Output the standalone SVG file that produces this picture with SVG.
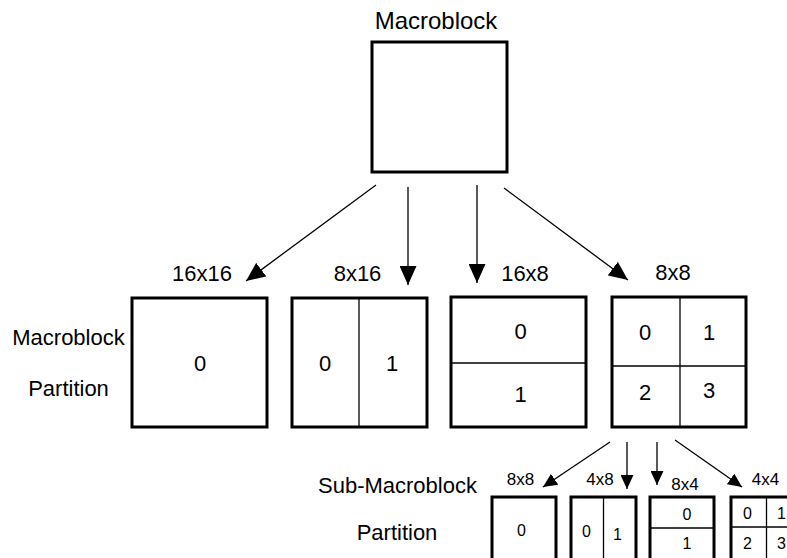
<svg xmlns="http://www.w3.org/2000/svg" width="787" height="558" viewBox="0 0 787 558">
  <style>
    .box { fill: #fff; stroke: #000; stroke-width: 3; }
    .div { stroke: #000; stroke-width: 1.3; fill: none; }
    .lbl { font-family: "Liberation Sans", Arial, sans-serif; font-size: 22px; fill: #000; text-anchor: middle; }
    .title { font-size: 24px; }
    .sm { font-family: "Liberation Sans", Arial, sans-serif; font-size: 17px; fill: #000; text-anchor: middle; }
    .num { font-family: "Liberation Sans", Arial, sans-serif; font-size: 16px; fill: #000; text-anchor: middle; }
    .edge { stroke: #000; stroke-width: 1.3; fill: none; }
    .big { marker-end: url(#ahBig); }
    .small { marker-end: url(#ahSmall); }
  </style>
  <defs>
    <marker id="ahBig" markerWidth="19" markerHeight="17" refX="19" refY="8.5" orient="auto" markerUnits="userSpaceOnUse">
      <path d="M0,0 L19,8.5 L0,17 Z" fill="#000"/>
    </marker>
    <marker id="ahSmall" markerWidth="14" markerHeight="13" refX="14" refY="6.5" orient="auto" markerUnits="userSpaceOnUse">
      <path d="M0,0 L14,6.5 L0,13 Z" fill="#000"/>
    </marker>
  </defs>
  <rect width="787" height="558" fill="#fff"/>

  <!-- row labels -->
  <text class="lbl" x="68.5" y="345">Macroblock</text>
  <text class="lbl" x="68.5" y="396">Partition</text>
  <text class="lbl" x="397.5" y="493">Sub-Macroblock</text>
  <text class="lbl" x="397" y="540">Partition</text>

  <!-- whole macroblock -->
  <g id="macroblock">
    <text class="lbl title" x="436" y="29">Macroblock</text>
    <rect class="box" x="372" y="42" width="135" height="130"/>
  </g>

  <!-- macroblock partitions -->
  <g id="mb-16x16">
    <text class="lbl" x="202" y="281">16x16</text>
    <rect class="box" x="132" y="298" width="135" height="129"/>
    <text class="lbl" x="200" y="371">0</text>
  </g>
  <g id="mb-8x16">
    <text class="lbl" x="357.5" y="281">8x16</text>
    <rect class="box" x="292" y="298" width="135" height="129"/>
    <line class="div" x1="359" y1="298" x2="359" y2="427"/>
    <text class="lbl" x="325" y="371">0</text>
    <text class="lbl" x="392" y="371">1</text>
  </g>
  <g id="mb-16x8">
    <text class="lbl" x="525" y="281">16x8</text>
    <rect class="box" x="451" y="297" width="135" height="130"/>
    <line class="div" x1="451" y1="363" x2="586" y2="363"/>
    <text class="lbl" x="520.5" y="339">0</text>
    <text class="lbl" x="520.5" y="402">1</text>
  </g>
  <g id="mb-8x8">
    <text class="lbl" x="673" y="280">8x8</text>
    <rect class="box" x="612" y="297" width="134" height="130"/>
    <line class="div" x1="680" y1="297" x2="680" y2="427"/>
    <line class="div" x1="612" y1="366" x2="746" y2="366"/>
    <text class="lbl" x="645" y="340">0</text>
    <text class="lbl" x="709" y="340">1</text>
    <text class="lbl" x="645" y="400">2</text>
    <text class="lbl" x="709" y="398">3</text>
  </g>

  <!-- sub-macroblock partitions -->
  <g id="sub-8x8">
    <text class="sm" x="520.5" y="485">8x8</text>
    <rect class="box" x="492" y="497" width="64" height="66"/>
    <text class="num" x="521.5" y="536">0</text>
  </g>
  <g id="sub-4x8">
    <text class="sm" x="600" y="485">4x8</text>
    <rect class="box" x="571" y="497" width="65" height="66"/>
    <line class="div" x1="603.5" y1="497" x2="603.5" y2="563"/>
    <text class="num" x="586.5" y="537">0</text>
    <text class="num" x="617.5" y="540">1</text>
  </g>
  <g id="sub-8x4">
    <text class="sm" x="685" y="490">8x4</text>
    <rect class="box" x="650" y="497" width="64" height="66"/>
    <line class="div" x1="650" y1="528" x2="714" y2="528"/>
    <text class="num" x="687" y="520">0</text>
    <text class="num" x="687" y="548.5">1</text>
  </g>
  <g id="sub-4x4">
    <text class="sm" x="765.5" y="485">4x4</text>
    <rect class="box" x="731" y="497" width="71" height="66"/>
    <line class="div" x1="766.5" y1="497" x2="766.5" y2="563"/>
    <line class="div" x1="731" y1="527" x2="802" y2="527"/>
    <text class="num" x="747.5" y="518.5">0</text>
    <text class="num" x="781.5" y="518.5">1</text>
    <text class="num" x="747.5" y="548.5">2</text>
    <text class="num" x="781.5" y="548.5">3</text>
  </g>

  <!-- connectors -->
  <g id="connectors">
    <line class="edge big" x1="376" y1="185" x2="246" y2="281"/>
    <line class="edge big" x1="408" y1="187" x2="408" y2="285"/>
    <line class="edge big" x1="477" y1="185" x2="477" y2="283"/>
    <line class="edge big" x1="504" y1="188" x2="628" y2="280"/>
    <line class="edge small" x1="610" y1="442" x2="543" y2="487"/>
    <line class="edge small" x1="627" y1="442" x2="627" y2="489"/>
    <line class="edge small" x1="657" y1="442" x2="657" y2="485"/>
    <line class="edge small" x1="675" y1="440" x2="742" y2="487"/>
  </g>
</svg>
